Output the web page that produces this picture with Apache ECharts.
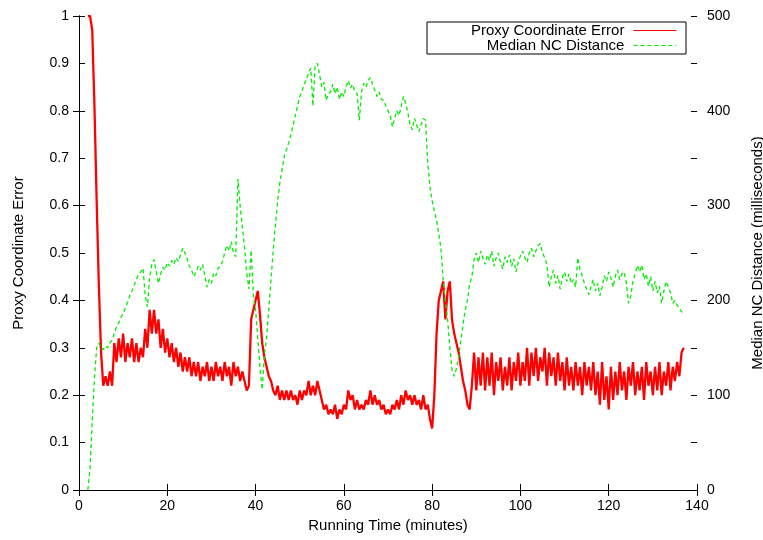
<!DOCTYPE html>
<html>
<head>
<meta charset="utf-8">
<script src="https://cdn.jsdelivr.net/npm/echarts@6/dist/echarts.min.js"></script>
<style>html,body{margin:0;padding:0;background:#fff;}#chart{width:763px;height:540px;}</style>
</head>
<body>
<div id="chart"></div>
<script>
// Sampling grid (minutes)
const startMinute = 2;
const stepMinutes = 0.5;

// Proxy Coordinate Error (left axis), one value per 0.5 minute from t = 2
const proxyError = [
  1.00, 1.00, 0.97, 0.81, 0.61, 0.43, 0.29, 0.22, 0.24, 0.22,
  0.25, 0.22, 0.31, 0.27, 0.32, 0.28, 0.33, 0.27, 0.31, 0.28,
  0.32, 0.27, 0.31, 0.27, 0.30, 0.28, 0.34, 0.30, 0.38, 0.33,
  0.38, 0.33, 0.36, 0.30, 0.34, 0.29, 0.32, 0.28, 0.31, 0.27,
  0.30, 0.26, 0.29, 0.25, 0.28, 0.25, 0.28, 0.24, 0.27, 0.24,
  0.27, 0.23, 0.26, 0.24, 0.27, 0.23, 0.26, 0.23, 0.27, 0.24,
  0.26, 0.23, 0.27, 0.24, 0.26, 0.22, 0.27, 0.24, 0.26, 0.23,
  0.25, 0.23, 0.21, 0.22, 0.36, 0.38, 0.40, 0.42, 0.37, 0.31,
  0.28, 0.26, 0.24, 0.23, 0.21, 0.20, 0.22, 0.19, 0.21, 0.19,
  0.21, 0.19, 0.21, 0.19, 0.20, 0.18, 0.21, 0.19, 0.21, 0.20,
  0.23, 0.20, 0.22, 0.20, 0.23, 0.21, 0.19, 0.17, 0.18, 0.16,
  0.17, 0.16, 0.18, 0.15, 0.17, 0.16, 0.18, 0.17, 0.21, 0.19,
  0.20, 0.17, 0.19, 0.17, 0.18, 0.17, 0.19, 0.18, 0.21, 0.18,
  0.20, 0.18, 0.19, 0.17, 0.18, 0.16, 0.17, 0.16, 0.18, 0.17,
  0.19, 0.17, 0.20, 0.18, 0.21, 0.19, 0.20, 0.18, 0.20, 0.18,
  0.19, 0.17, 0.20, 0.17, 0.18, 0.15, 0.13, 0.20, 0.33, 0.40,
  0.42, 0.44, 0.36, 0.42, 0.44, 0.36, 0.33, 0.31, 0.29, 0.26,
  0.23, 0.21, 0.18, 0.17, 0.22, 0.29, 0.21, 0.28, 0.22, 0.29,
  0.21, 0.28, 0.22, 0.29, 0.20, 0.27, 0.23, 0.28, 0.21, 0.26,
  0.22, 0.28, 0.21, 0.27, 0.23, 0.29, 0.22, 0.27, 0.23, 0.30,
  0.22, 0.29, 0.24, 0.30, 0.23, 0.28, 0.25, 0.30, 0.22, 0.29,
  0.24, 0.28, 0.22, 0.29, 0.23, 0.27, 0.21, 0.28, 0.22, 0.26,
  0.21, 0.27, 0.22, 0.26, 0.20, 0.27, 0.22, 0.26, 0.21, 0.27,
  0.20, 0.25, 0.18, 0.27, 0.19, 0.24, 0.17, 0.26, 0.19, 0.25,
  0.20, 0.27, 0.21, 0.25, 0.19, 0.26, 0.22, 0.27, 0.20, 0.25,
  0.21, 0.26, 0.19, 0.27, 0.22, 0.25, 0.20, 0.26, 0.21, 0.27,
  0.20, 0.25, 0.22, 0.27, 0.21, 0.26, 0.23, 0.27, 0.24, 0.29,
  0.30
];

// Median NC Distance in milliseconds (right axis), same grid
const medianDistance = [
  0, 22, 74, 118, 150, 155, 150, 148, 152, 150,
  155, 158, 165, 172, 176, 182, 186, 192, 198, 205,
  210, 216, 222, 228, 230, 234, 205, 193, 225, 238,
  243, 230, 218, 228, 235, 232, 240, 236, 242, 238,
  245, 241, 248, 255, 250, 244, 236, 232, 225, 230,
  236, 232, 238, 226, 214, 222, 218, 229, 226, 234,
  236, 241, 250, 258, 252, 262, 250, 246, 328, 300,
  278, 256, 228, 212, 253, 205, 190, 160, 128, 106,
  142, 161, 192, 222, 253, 280, 305, 324, 338, 352,
  359, 366, 375, 385, 395, 405, 415, 420, 428, 433,
  440, 445, 405, 448, 450, 438, 425, 430, 411, 418,
  420, 428, 418, 425, 412, 420, 415, 425, 432, 424,
  428, 420, 418, 390, 420, 429, 425, 432, 435, 428,
  422, 415, 420, 412, 411, 405, 400, 395, 383, 392,
  400, 395, 405, 415, 408, 398, 385, 380, 392, 385,
  378, 385, 392, 390, 345, 320, 305, 294, 285, 270,
  255, 221, 200, 180, 150, 127, 120, 128, 140, 158,
  175, 190, 200, 218, 225, 243, 250, 240, 252, 245,
  238, 248, 242, 252, 236, 245, 250, 240, 233, 246,
  240, 248, 236, 244, 230, 240, 247, 252, 245, 240,
  250, 255, 246, 252, 258, 260, 250, 245, 238, 214,
  225, 232, 218, 226, 212, 224, 230, 220, 228, 218,
  222, 214, 245, 232, 226, 218, 212, 206, 215, 222,
  210, 218, 205, 214, 226, 220, 230, 224, 214, 226,
  232, 222, 228, 230, 218, 197, 205, 220, 228, 237,
  230, 237, 222, 228, 215, 225, 210, 220, 208, 215,
  197, 210, 220, 214, 208, 197, 200, 195, 192, 188,
  187
];

const seriesNames = ['Proxy Coordinate Error', 'Median NC Distance'];
const xAxisTitle = 'Running Time (minutes)';
const leftAxisTitle = 'Proxy Coordinate Error';
const rightAxisTitle = 'Median NC Distance (milliseconds)';

const toPairs = arr => arr.map((v, i) => [startMinute + i * stepMinutes, v]);

const font = 'Liberation Sans, Arial, Helvetica, sans-serif';
const tickStyle = { inside: true, length: 6, lineStyle: { color: '#000', width: 1 } };
const lineStyleAxis = { show: true, lineStyle: { color: '#000', width: 1 } };
const titleStyle = { fontSize: 15, color: '#000', fontFamily: font };

const chart = echarts.init(document.getElementById('chart'), null, { renderer: 'canvas' });
chart.setOption({
  animation: false,
  backgroundColor: '#fff',
  textStyle: { fontFamily: font },
  grid: { left: 79, right: 66, top: 16, bottom: 50, show: false, containLabel: false, outerBoundsMode: 'none' },
  legend: {
    data: seriesNames,
    orient: 'vertical',
    align: 'right',
    right: 77,
    top: 22,
    padding: [1, 9, 1, 44],
    itemGap: 0,
    itemWidth: 43,
    itemHeight: 8,
    borderColor: '#000',
    borderWidth: 1,
    borderRadius: 0,
    itemStyle: { opacity: 0 },
    lineStyle: { width: 1.2 },
    textStyle: { fontSize: 15, color: '#000', fontFamily: font, lineHeight: 14, padding: [0, 4, 0, 0] }
  },
  xAxis: [
    {
      type: 'value', min: 0, max: 140, interval: 20, position: 'bottom',
      name: xAxisTitle, nameLocation: 'middle', nameGap: 27,
      nameTextStyle: titleStyle,
      axisLine: lineStyleAxis, axisTick: tickStyle,
      axisLabel: { fontSize: 14, color: '#000', margin: 9, fontFamily: font },
      splitLine: { show: false }
    },
    {
      type: 'value', min: 0, max: 140, interval: 20, position: 'top',
      axisLine: lineStyleAxis, axisTick: tickStyle,
      axisLabel: { show: false }, splitLine: { show: false }
    }
  ],
  yAxis: [
    {
      type: 'value', min: 0, max: 1, interval: 0.1, position: 'left',
      name: leftAxisTitle, nameLocation: 'middle', nameGap: 53, nameRotate: 90,
      nameTextStyle: titleStyle,
      axisLine: lineStyleAxis, axisTick: tickStyle,
      axisLabel: { fontSize: 14, color: '#000', margin: 10, fontFamily: font },
      splitLine: { show: false }
    },
    {
      type: 'value', min: 0, max: 500, interval: 100, position: 'right',
      name: rightAxisTitle, nameLocation: 'middle', nameGap: 53, nameRotate: 90,
      nameTextStyle: titleStyle,
      axisLine: lineStyleAxis, axisTick: tickStyle,
      axisLabel: { fontSize: 14, color: '#000', margin: 10, fontFamily: font },
      splitLine: { show: false }
    },
    {
      type: 'value', min: 0, max: 1, interval: 0.1, position: 'right',
      axisLine: { show: false }, axisTick: tickStyle,
      axisLabel: { show: false }, splitLine: { show: false }
    }
  ],
  series: [
    {
      name: seriesNames[0], type: 'line', xAxisIndex: 0, yAxisIndex: 0,
      data: toPairs(proxyError), showSymbol: false, symbol: 'none',
      lineStyle: { color: '#ff0000', width: 2.3 }, itemStyle: { color: '#ff0000' }
    },
    {
      name: seriesNames[1], type: 'line', xAxisIndex: 0, yAxisIndex: 1,
      data: toPairs(medianDistance), showSymbol: false, symbol: 'none',
      lineStyle: { color: '#00ee00', width: 1.3, type: [4, 3] }, itemStyle: { color: '#00ee00' }
    }
  ]
});
</script>
</body>
</html>
